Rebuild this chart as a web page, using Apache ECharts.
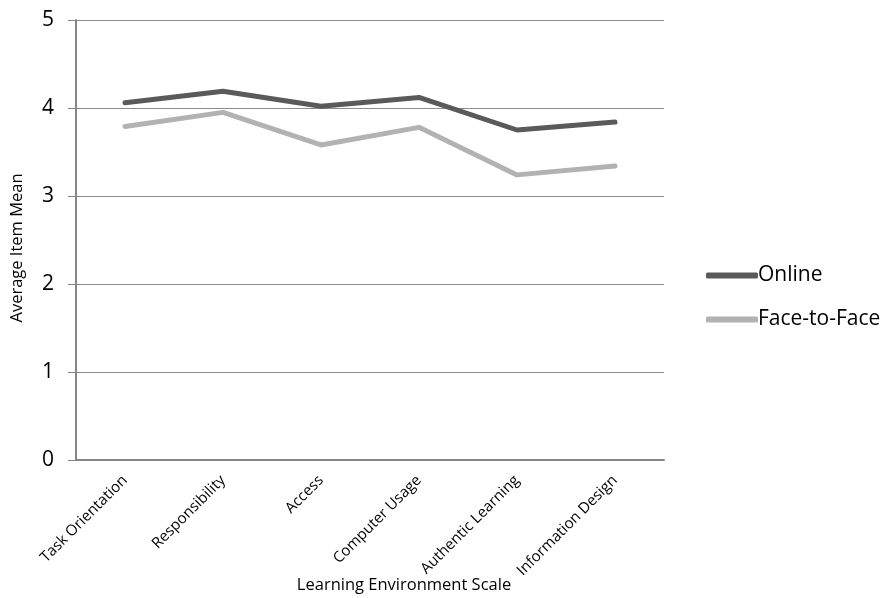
<!DOCTYPE html>
<html><head><meta charset="utf-8">
<script src="https://cdn.jsdelivr.net/npm/echarts@6/dist/echarts.min.js"></script>
<style>html,body{margin:0;padding:0;background:#fff}#c{width:890px;height:598px}</style>
</head><body><div id="c"></div>
<script>
const categories = ['Task Orientation','Responsibility','Access','Computer Usage','Authentic Learning','Information Design'];
const online = [4.06, 4.19, 4.02, 4.12, 3.75, 3.84];
const faceToFace = [3.79, 3.95, 3.58, 3.78, 3.24, 3.34];
const yTicks = [0, 1, 2, 3, 4, 5];
const font = '"Open Sans", "Liberation Sans", sans-serif';
const chart = echarts.init(document.getElementById('c'));
chart.setOption({
  animation: false,
  textStyle: {fontFamily: font, color: '#000'},
  grid: {left: 76, right: 226, top: 20, bottom: 138, containLabel: false, outerBoundsMode: 'none'},
  legend: {
    orient: 'vertical', left: 701, top: 260, itemWidth: 52, itemHeight: 6, itemGap: 23,
    icon: 'roundRect',
    textStyle: {fontFamily: font, fontSize: 21, color: '#000', padding: [0,0,0,-5]},
    data: ['Online', 'Face-to-Face']
  },
  xAxis: {
    type: 'category', data: categories, boundaryGap: true,
    name: 'Learning Environment Scale', nameLocation: 'middle', nameGap: 117, nameMoveOverlap: false,
    nameTextStyle: {fontFamily: font, fontSize: 16.5, color: '#000', padding: [0,0,0,68]},
    axisLine: {lineStyle: {color: '#868686', width: 2}},
    axisTick: {show: false},
    axisLabel: {rotate: 45, fontFamily: font, fontSize: 15, color: '#000', margin: 18, interval: 0}
  },
  yAxis: {
    type: 'value', min: yTicks[0], max: yTicks[yTicks.length-1], interval: 1,
    name: 'Average Item Mean', nameLocation: 'middle', nameGap: 50, nameMoveOverlap: false,
    nameTextStyle: {fontFamily: font, fontSize: 16.5, color: '#000', padding: [0,16,0,0]},
    axisLine: {show: true, lineStyle: {color: '#868686', width: 2}},
    axisTick: {show: true, length: 8, lineStyle: {color: '#868686', width: 1}},
    axisLabel: {fontFamily: font, fontSize: 21, color: '#000', margin: 22},
    splitLine: {lineStyle: {color: '#8c8c8c', width: 1}}
  },
  series: [
    {name: 'Online', type: 'line', data: online, showSymbol: false, symbol: 'none',
     lineStyle: {color: '#5a5a5a', width: 5, cap: 'round', join: 'round'}, itemStyle: {color: '#5a5a5a'}},
    {name: 'Face-to-Face', type: 'line', data: faceToFace, showSymbol: false, symbol: 'none',
     lineStyle: {color: '#b2b2b2', width: 5, cap: 'round', join: 'round'}, itemStyle: {color: '#b2b2b2'}}
  ]
});
</script></body></html>
